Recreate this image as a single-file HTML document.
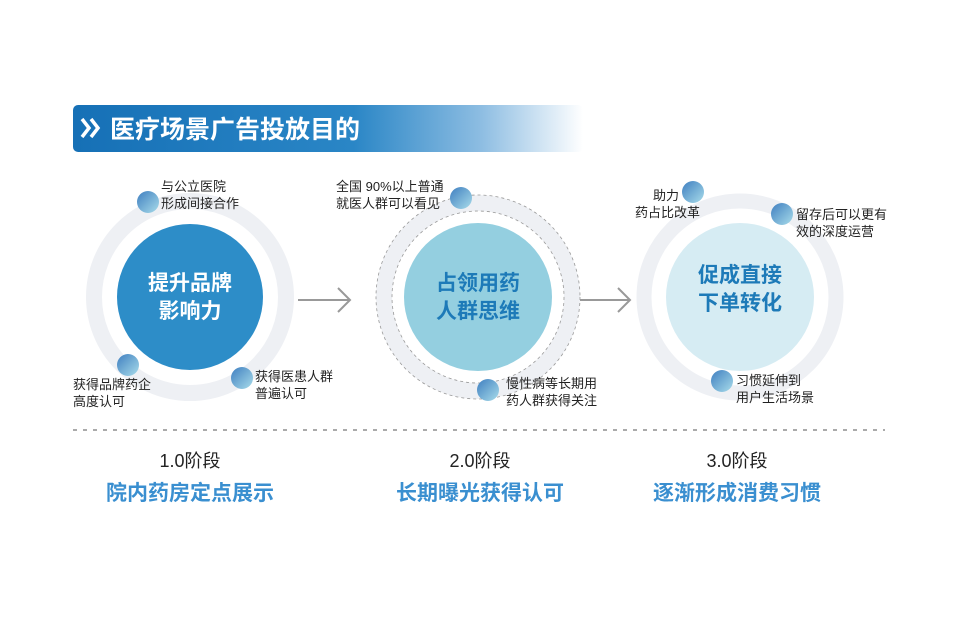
<!DOCTYPE html>
<html><head><meta charset="utf-8"><style>
html,body{margin:0;padding:0;background:#fff;}
svg{display:block;font-family:"Liberation Sans","Noto Sans CJK SC",sans-serif;}
</style></head><body>
<svg width="964" height="624" viewBox="0 0 964 624" xmlns="http://www.w3.org/2000/svg">
<defs>
<linearGradient id="hdr" x1="0" x2="1" y1="0" y2="0">
<stop offset="0" stop-color="#1670b6"/><stop offset="0.55" stop-color="#2a86c6"/><stop offset="0.8" stop-color="#8dbde2"/><stop offset="1" stop-color="#ffffff"/>
</linearGradient>
<linearGradient id="dot" x1="0" y1="0" x2="1" y2="1">
<stop offset="0" stop-color="#3f7fc0"/><stop offset="1" stop-color="#a8dcea"/>
</linearGradient>
</defs>
<rect x="73" y="105" width="510" height="47" rx="5" fill="url(#hdr)"/>
<g stroke="#fff" stroke-width="3.5" fill="none">
<polyline points="82,119 89,128 82,137"/><polyline points="91,119 98,128 91,137"/>
</g>
<text x="110" y="138" font-size="25" font-weight="bold" fill="#fff">医疗场景广告投放目的</text>

<!-- circle 1 -->
<circle cx="190" cy="297" r="96" fill="none" stroke="#eef0f4" stroke-width="16"/>
<circle cx="190" cy="297" r="73" fill="#2d8dc8"/>
<text x="190" y="290" font-size="21" font-weight="bold" fill="#fff" text-anchor="middle">提升品牌</text>
<text x="190" y="318" font-size="21" font-weight="bold" fill="#fff" text-anchor="middle">影响力</text>
<circle cx="148" cy="202" r="11" fill="url(#dot)"/>
<circle cx="128" cy="365" r="11" fill="url(#dot)"/>
<circle cx="242" cy="378" r="11" fill="url(#dot)"/>
<g font-size="13" fill="#222">
<text x="161" y="191">与公立医院</text><text x="161" y="208">形成间接合作</text>
<text x="73" y="389">获得品牌药企</text><text x="73" y="406">高度认可</text>
<text x="255" y="381">获得医患人群</text><text x="255" y="398">普遍认可</text>
</g>
<g stroke="#999" stroke-width="2" fill="none">
<line x1="298" y1="300" x2="350" y2="300"/><polyline points="338,288 350,300 338,312"/>
<line x1="580" y1="300" x2="630" y2="300"/><polyline points="618,288 630,300 618,312"/>
</g>

<!-- circle 2 -->
<circle cx="478" cy="297" r="94" fill="none" stroke="#eef0f4" stroke-width="16"/>
<circle cx="478" cy="297" r="102" fill="none" stroke="#999" stroke-width="0.8" stroke-dasharray="3,3"/>
<circle cx="478" cy="297" r="86" fill="none" stroke="#999" stroke-width="0.8" stroke-dasharray="3,3"/>
<circle cx="478" cy="297" r="74" fill="#94cfe0"/>
<text x="478" y="290" font-size="21" font-weight="bold" fill="#1d7ab8" text-anchor="middle">占领用药</text>
<text x="478" y="318" font-size="21" font-weight="bold" fill="#1d7ab8" text-anchor="middle">人群思维</text>
<circle cx="461" cy="198" r="11" fill="url(#dot)"/>
<circle cx="488" cy="390" r="11" fill="url(#dot)"/>
<g font-size="13" fill="#222">
<text x="336" y="191">全国 90%以上普通</text><text x="336" y="208">就医人群可以看见</text>
<text x="506" y="388">慢性病等长期用</text><text x="506" y="405">药人群获得关注</text>
</g>

<!-- circle 3 -->
<circle cx="740" cy="297" r="96" fill="none" stroke="#eef0f4" stroke-width="15"/>
<circle cx="740" cy="297" r="74" fill="#d6ecf3"/>
<text x="740" y="282" font-size="21" font-weight="bold" fill="#1d7ab8" text-anchor="middle">促成直接</text>
<text x="740" y="310" font-size="21" font-weight="bold" fill="#1d7ab8" text-anchor="middle">下单转化</text>
<circle cx="693" cy="192" r="11" fill="url(#dot)"/>
<circle cx="782" cy="214" r="11" fill="url(#dot)"/>
<circle cx="722" cy="381" r="11" fill="url(#dot)"/>
<g font-size="13" fill="#222">
<text x="679" y="200" text-anchor="end">助力</text><text x="700" y="217" text-anchor="end">药占比改革</text>
<text x="796" y="219">留存后可以更有</text><text x="796" y="236">效的深度运营</text>
<text x="736" y="385">习惯延伸到</text><text x="736" y="402">用户生活场景</text>
</g>

<line x1="73" y1="430" x2="885" y2="430" stroke="#555" stroke-width="1" stroke-dasharray="4,6"/>
<g font-size="18" fill="#222" text-anchor="middle">
<text x="190" y="467">1.0阶段</text><text x="480" y="467">2.0阶段</text><text x="737" y="467">3.0阶段</text>
</g>
<g font-size="21" font-weight="bold" fill="#3a8fd0" text-anchor="middle">
<text x="190" y="500">院内药房定点展示</text><text x="480" y="500">长期曝光获得认可</text><text x="737" y="500">逐渐形成消费习惯</text>
</g>
</svg>
</body></html>
